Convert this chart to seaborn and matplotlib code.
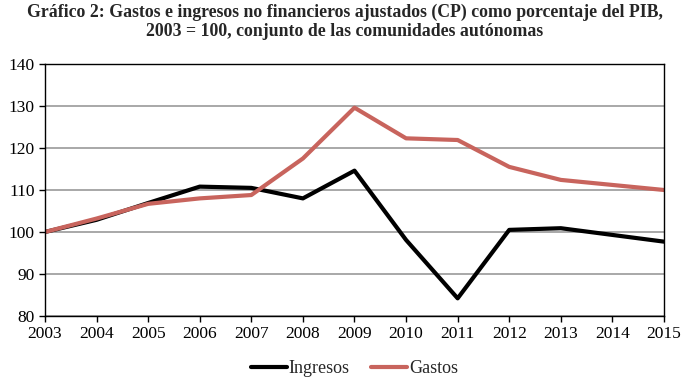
import numpy as np
import pandas as pd
import matplotlib
matplotlib.use("Agg")
import matplotlib.pyplot as plt
import seaborn as sns

years = [2003, 2004, 2005, 2006, 2007, 2008, 2009, 2010, 2011, 2012, 2013, 2014, 2015]
ingresos = [100.0, 102.9, 106.9, 110.8, 110.5, 108.0, 114.6, 98.1, 84.2, 100.5, 100.9, 99.3, 97.7]
gastos = [100.0, 103.2, 106.7, 108.0, 108.8, 117.5, 129.6, 122.3, 121.9, 115.5, 112.4, 111.2, 110.0]

df = pd.DataFrame({
    "year": years * 2,
    "value": ingresos + gastos,
    "serie": ["Ingresos"] * len(years) + ["Gastos"] * len(years),
})

sns.set_theme(style="white")
plt.rcParams["font.family"] = ["Liberation Serif", "DejaVu Serif"]

fig = plt.figure(figsize=(6.89, 3.89), dpi=100)
ax = fig.add_axes([0.0653, 0.1877, 0.8984, 0.6478])

sns.lineplot(data=df, x="year", y="value", hue="serie",
             palette={"Ingresos": "#000000", "Gastos": "#c8645d"},
             linewidth=3, ax=ax, legend=True)

ax.set_xlim(2003, 2015)
ax.set_ylim(80, 140)
ax.set_xticks(years)
ax.set_yticks(range(80, 141, 10))
ax.tick_params(axis="both", labelsize=12.5, length=4, direction="out",
               bottom=True, left=True, colors="black", width=1)
ax.yaxis.grid(True, color="#9a9a9a", linewidth=1.2)
ax.xaxis.grid(False)
ax.set_axisbelow(True)
for s in ax.spines.values():
    s.set_color("black")
    s.set_linewidth(1)
ax.set_xlabel("")
ax.set_ylabel("")

handles, labels = ax.get_legend_handles_labels()
ax.legend(handles, labels, loc="upper center", bbox_to_anchor=(0.5, -0.11),
          ncol=2, frameon=False, fontsize=13, handlelength=2.0,
          handletextpad=0.1, columnspacing=1.2)

fig.suptitle("Gráfico 2: Gastos e ingresos no financieros ajustados (CP) como porcentaje del PIB,\n"
             "2003 = 100, conjunto de las comunidades autónomas",
             fontsize=12.8, fontweight="bold", y=0.99, linespacing=1.1)

fig.savefig("out.png", dpi=100)
